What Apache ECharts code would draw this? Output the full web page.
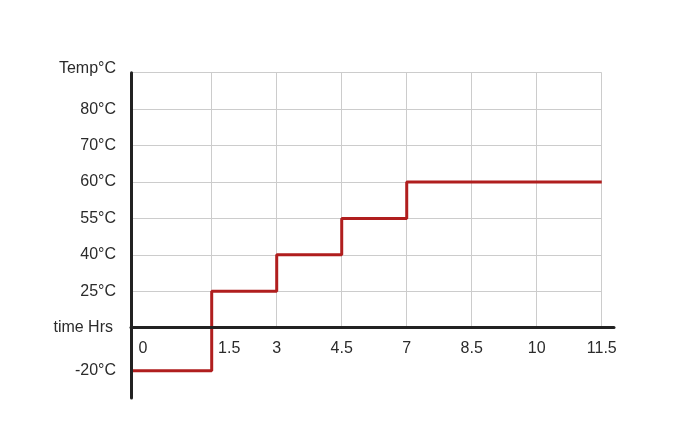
<!DOCTYPE html>
<html>
<head>
<meta charset="utf-8">
<script src="https://cdn.jsdelivr.net/npm/echarts@6/dist/echarts.min.js"></script>
<style>
html,body{margin:0;padding:0;background:#fff;}
#chart{width:683px;height:446px;}
</style>
</head>
<body>
<div id="chart"></div>
<script>
// Axis labels (the chart uses ordinal, evenly spaced positions)
const timeLabels = ['0', '1.5', '3', '4.5', '7', '8.5', '10', '11.5'];
const tempLabels = ['-20°C', 'time Hrs', '25°C', '40°C', '55°C', '60°C', '70°C', '80°C', 'Temp°C'];

// Temperature profile: step values at each time
const stepTimes = ['0', '1.5', '3', '4.5', '7', '11.5'];
const stepTemps = ['-20°C', '25°C', '40°C', '55°C', '60°C', '60°C'];

// ordinal scales: label -> axis coordinate
const X_FIRST_GAP = 1.2415;          // wider first interval (0 -> 1.5)
function xPos(label) {
  const i = timeLabels.indexOf(label);
  return i === 0 ? 0 : i - 1 + X_FIRST_GAP;
}
const Y_BELOW = -1.18;               // position of the sub-zero row
function yPos(label) {
  const i = tempLabels.indexOf(label);
  return i === 0 ? Y_BELOW : i - 1;
}
function findLabel(labels, posFn, v) {
  for (let i = 0; i < labels.length; i++) {
    if (Math.abs(posFn(labels[i]) - v) < 1e-6) return labels[i];
  }
  return '';
}

const xLabelVals = timeLabels.map(xPos);
const yLabelVals = tempLabels.map(yPos);
const xEnd = xPos(timeLabels[timeLabels.length - 1]);
const yTop = yPos(tempLabels[tempLabels.length - 1]);

// grid lines (vertical ones stop at the time axis, horizontal ones at the last time)
const gridLines = [];
timeLabels.slice(1).forEach(t => gridLines.push([{coord: [xPos(t), 0]}, {coord: [xPos(t), yTop]}]));
tempLabels.slice(2).forEach(c => gridLines.push([{coord: [0, yPos(c)]}, {coord: [xEnd, yPos(c)]}]));

const seriesData = stepTimes.map((t, i) => [xPos(t), yPos(stepTemps[i])]);

const font = '"Liberation Sans", Arial, sans-serif';
const txt = '#2b2b2b';
const fs = 16;
const chart = echarts.init(document.getElementById('chart'), null, {renderer: 'canvas'});
chart.setOption({
  animation: false,
  backgroundColor: '#ffffff',
  grid: {left: 131, right: 69, top: 72.7, bottom: 48, containLabel: false},
  xAxis: {
    type: 'value',
    min: 0,
    max: 7.43,
    z: 5,
    axisLine: {show: true, onZero: true, lineStyle: {color: '#222', width: 3}},
    axisTick: {show: false},
    splitLine: {show: false},
    axisLabel: {
      customValues: xLabelVals,
      margin: -57,
      color: txt,
      fontSize: fs,
      fontFamily: font,
      formatter: function (v) {
        const t = findLabel(timeLabels, xPos, v);
        if (t === timeLabels[0]) return '{a|' + t + '}';
        if (t === timeLabels[1]) return '{b|' + t + '}';
        return t;
      },
      rich: {
        a: {fontSize: fs, fontFamily: font, color: txt, padding: [0, 0, 0, 24]},
        b: {fontSize: fs, fontFamily: font, color: txt, padding: [0, 0, 0, 35]}
      }
    }
  },
  yAxis: {
    type: 'value',
    min: -1.93,
    max: 7,
    z: 5,
    axisLine: {show: true, onZero: false, lineStyle: {color: '#222', width: 3}},
    axisTick: {show: false},
    splitLine: {show: false},
    axisLabel: {
      customValues: yLabelVals,
      margin: 15,
      color: txt,
      fontSize: fs,
      fontFamily: font,
      formatter: function (v) {
        const t = findLabel(tempLabels, yPos, v);
        if (t === 'time Hrs') return '{c|' + t + '}';
        if (t === 'Temp°C') return '{d|' + t + '}';
        return t;
      },
      rich: {
        c: {fontSize: fs, fontFamily: font, color: txt, padding: [0, 3, 0, 0]},
        d: {fontSize: fs, fontFamily: font, color: txt, padding: [0, 0, 8, 0]}
      }
    }
  },
  series: [{
    type: 'line',
    data: [],
    silent: true,
    z: 1,
    markLine: {
      silent: true,
      z: 1,
      symbol: ['none', 'none'],
      label: {show: false},
      lineStyle: {color: '#cccccc', width: 1, type: 'solid'},
      emphasis: {disabled: true},
      data: gridLines
    }
  }, {
    type: 'line',
    step: 'end',
    data: seriesData,
    showSymbol: false,
    symbol: 'none',
    lineStyle: {color: '#b01e1e', width: 3},
    z: 3
  }]
});
</script>
</body>
</html>
